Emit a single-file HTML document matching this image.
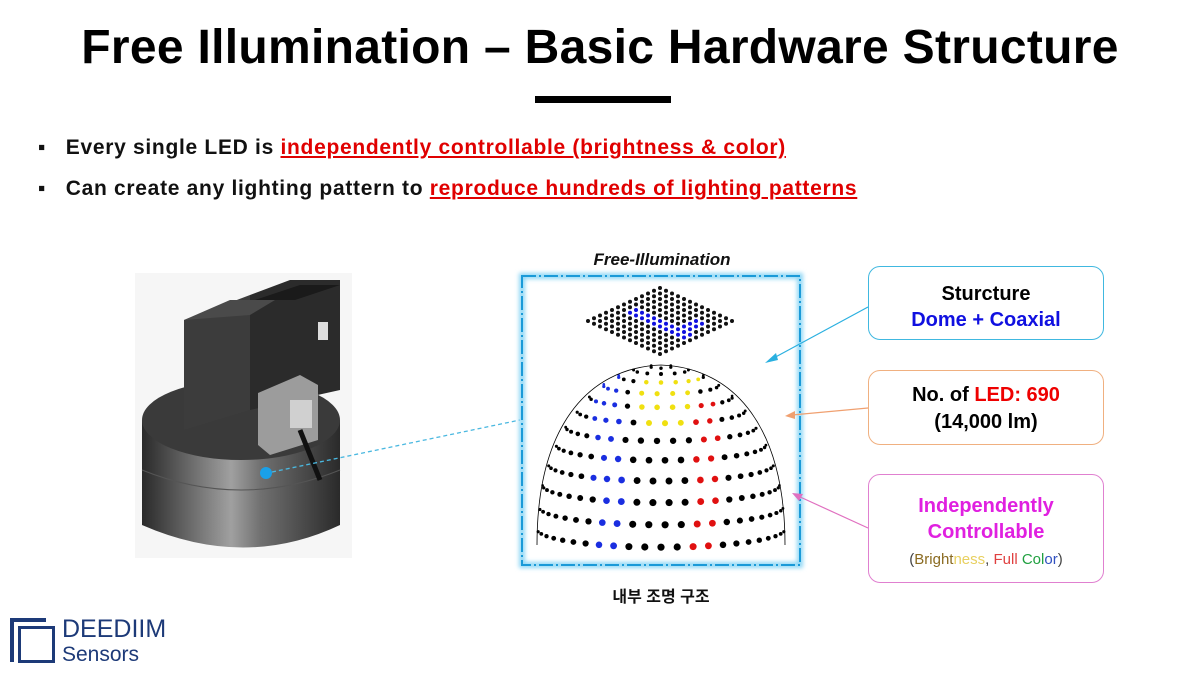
<!DOCTYPE html>
<html><head><meta charset="utf-8"><style>
body{margin:0;width:1200px;height:675px;background:#fff;overflow:hidden;font-family:"Liberation Sans","Noto Sans CJK KR",sans-serif;position:relative}
.t{position:absolute;left:0;width:1200px;text-align:center;top:20px;font-size:48px;font-weight:bold;color:#000;letter-spacing:0.3px}
.bar{position:absolute;left:535px;top:96px;width:136px;height:7px;background:#000}
.b{position:absolute;left:38px;font-size:21px;font-weight:bold;color:#111;letter-spacing:0.7px}
.b span.r{color:#e00000;text-decoration:underline}
.box{position:absolute;border:1.5px solid;border-radius:12px;text-align:center;font-weight:bold;background:#fff}
</style></head><body>
<div class="t">Free Illumination – Basic Hardware Structure</div>
<div class="bar"></div>
<div class="b" style="top:136px">▪&nbsp;&nbsp; Every single LED is <span class="r">independently controllable (brightness &amp; color)</span></div>
<div class="b" style="top:177px">▪&nbsp;&nbsp; Can create any lighting pattern to <span class="r">reproduce hundreds of lighting patterns</span></div>

<svg width="1200" height="675" style="position:absolute;left:0;top:0" id="s">
<defs>
<linearGradient id="cyl" x1="0" x2="1"><stop offset="0" stop-color="#2a2a2a"/><stop offset=".45" stop-color="#a0a0a0"/><stop offset=".6" stop-color="#707070"/><stop offset="1" stop-color="#2a2a2a"/></linearGradient>
<filter id="gl"><feGaussianBlur stdDeviation="2"/></filter>
</defs>
<rect x="135" y="273" width="217" height="285" fill="#f6f6f6"/>
<path d="M142 420 L142 525 Q245 570 340 525 L340 420 Z" fill="url(#cyl)"/>
<ellipse cx="241" cy="420" rx="99" ry="40" fill="#3a3a3a"/>
<path d="M142 470 Q241 510 340 470" stroke="#555" fill="none"/>
<polygon points="184,320 250,295 250,410 184,430" fill="#3c3c3c"/>
<polygon points="250,295 290,280 340,280 340,390 250,410" fill="#2b2b2b"/>
<polygon points="184,320 230,300 275,300 250,315" fill="#4a4a4a"/>
<polygon points="255,300 300,285 340,285 295,300" fill="#1a1a1a"/>
<polygon points="258,393 300,375 318,385 318,440 270,455 258,445" fill="#9c9c9c"/>
<rect x="290" y="400" width="22" height="28" fill="#d0d0d0"/>
<line x1="300" y1="430" x2="320" y2="480" stroke="#111" stroke-width="5"/>
<rect x="318" y="322" width="10" height="18" fill="#ddd"/>
<circle cx="266" cy="473" r="6" fill="#1aa0e8"/>
<line x1="272" y1="472" x2="520" y2="420" stroke="#4ab8e0" stroke-width="1.3" stroke-dasharray="4,3"/>
<rect x="522" y="276" width="278" height="289" fill="none" stroke="#8fd7f5" stroke-width="6" filter="url(#gl)"/>
<rect x="522" y="276" width="278" height="289" fill="none" stroke="#1a9ad8" stroke-width="2" stroke-dasharray="14,3,2,3"/>
<g id="grid"></g><g id="dome"></g>
<text x="662" y="265" font-size="17" font-weight="bold" font-style="italic" text-anchor="middle" fill="#111" font-family="Liberation Sans">Free-Illumination</text>
<text x="661" y="602" font-size="16" font-weight="bold" text-anchor="middle" fill="#111" font-family="Liberation Sans,Noto Sans CJK KR,sans-serif">내부 조명 구조</text>
<line x1="868" y1="307" x2="770" y2="360" stroke="#2ab0e0" stroke-width="1.2"/><polygon points="765,363 776,353 778,360" fill="#2ab0e0"/>
<line x1="868" y1="408" x2="792" y2="415" stroke="#f0a070" stroke-width="1.2"/><polygon points="785,416 795,411 795,419" fill="#f0a070"/>
<line x1="868" y1="528" x2="798" y2="496" stroke="#e070c0" stroke-width="1.2"/><polygon points="792,493 803,494 799,501" fill="#e070c0"/>
</svg>

<div class="box" style="left:868px;top:266px;width:236px;height:74px;border-color:#40b8e0;font-size:20px;line-height:26px;padding-top:14px;box-sizing:border-box">Sturcture<br><span style="color:#1010e0">Dome + Coaxial</span></div>
<div class="box" style="left:868px;top:370px;width:236px;height:75px;border-color:#f0b080;font-size:20px;line-height:27px;padding-top:11px;box-sizing:border-box">No. of <span style="color:#e00">LED: 690</span><br>(14,000 lm)</div>
<div class="box" style="left:868px;top:474px;width:236px;height:109px;border-color:#e080d0;font-size:20px;line-height:26px;padding-top:18px;box-sizing:border-box"><span style="color:#e020e0">Independently<br>Controllable</span><br><span style="font-weight:normal;font-size:15px;color:#444">(<span style="color:#8a6a20">Bright</span><span style="color:#e8d060">ness</span>, <span style="color:#e04040">Full</span> <span style="color:#20a040">Col</span><span style="color:#3050c0">or</span>)</span></div>

<div style="position:absolute;left:10px;top:618px;width:40px;height:46px">
<div style="position:absolute;left:0;top:0;width:36px;height:4px;background:#1d3a78"></div>
<div style="position:absolute;left:0;top:0;width:4px;height:44px;background:#1d3a78"></div>
<div style="position:absolute;left:8px;top:8px;width:37px;height:37px;border:3px solid #1d3a78;box-sizing:border-box"></div>
</div>
<div style="position:absolute;left:62px;top:616px;font-size:25px;color:#1d3a78;line-height:26px">DEEDIIM</div>
<div style="position:absolute;left:62px;top:644px;font-size:21px;color:#1d3a78;line-height:22px">Sensors</div>

<script>
var ns="http://www.w3.org/2000/svg";
function dot(g,x,y,r,c){var e=document.createElementNS(ns,"circle");e.setAttribute("cx",x.toFixed(1));e.setAttribute("cy",y.toFixed(1));e.setAttribute("r",r.toFixed(2));e.setAttribute("fill",c);g.appendChild(e);}
var g=document.getElementById("grid");
var N=13;
for(var i=0;i<N;i++)for(var j=0;j<N;j++){var u=i/(N-1)-.5,v=j/(N-1)-.5;var x=660+(u-v)*72,y=321+(u+v)*33;
var c=((j==6||j==7)&&i>=2&&i<=11)||(i>=9&&i<=10&&j>=3&&j<=7)?"#1010e0":"#111";dot(g,x,y,2.0,c);}
var d=document.getElementById("dome");
var cx=661,by=536,R=124,sy=1.38,t=6*Math.PI/180;
var K=12;
for(var k=0;k<K;k++){var ph=(k+0.3)/K*Math.PI/2;var rr=Math.cos(ph);var n=Math.max(1,Math.round(46*rr)+2);
for(var m=0;m<n;m++){var th=(m+(k%2)*.5)/n*Math.PI*2;
var X=rr*Math.cos(th),Y=Math.sin(ph),Z=rr*Math.sin(th);
var z=Z*Math.cos(t)+Y*Math.sin(t);if(z<0.02)continue;
var x=cx+R*X;var y=by-sy*R*(Y*Math.cos(t)-Z*Math.sin(t));
var col="#000";
if(X<-0.3&&X>-0.55&&k<10)col="#1a2ee0";
else if(X>0.25&&X<0.48&&k<8)col="#e01010";
else if(k>=6&&k<=9&&X>-0.2&&X<0.3)col="#f0e010";
dot(d,x,y,3.6*(0.35+0.65*z),col);}}
var p=document.createElementNS(ns,"path");p.setAttribute("d","M537 545 C537 430 585 368 661 365 C737 368 785 430 785 545");p.setAttribute("fill","none");p.setAttribute("stroke","#000");p.setAttribute("stroke-width","0.8");d.appendChild(p);
</script>
</body></html>
